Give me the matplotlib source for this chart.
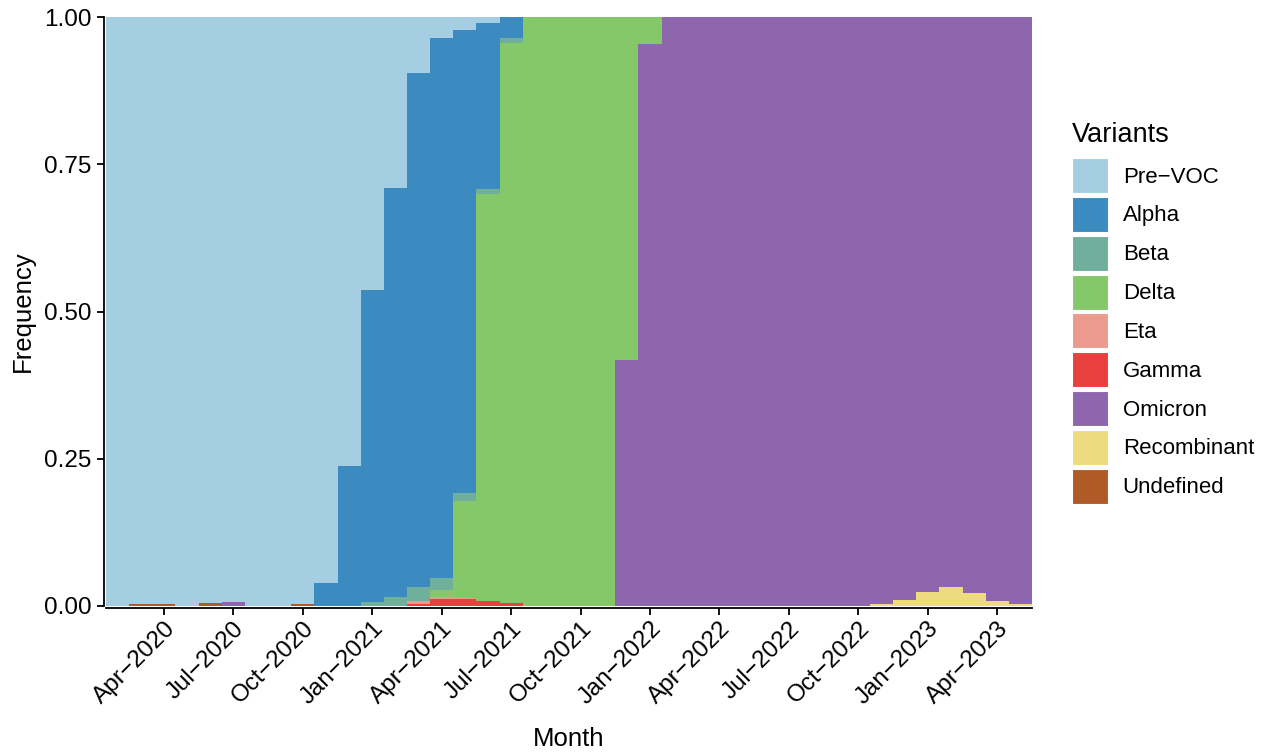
import matplotlib
matplotlib.use("Agg")
import matplotlib.pyplot as plt
from matplotlib.patches import Patch
import numpy as np

plt.rcParams['font.family'] = ['Liberation Sans', 'DejaVu Sans']

# months Feb-2020 .. May-2023 (40 bars)
months = ['Feb-2020', 'Mar-2020', 'Apr-2020', 'May-2020', 'Jun-2020', 'Jul-2020',
          'Aug-2020', 'Sep-2020', 'Oct-2020', 'Nov-2020', 'Dec-2020', 'Jan-2021',
          'Feb-2021', 'Mar-2021', 'Apr-2021', 'May-2021', 'Jun-2021', 'Jul-2021',
          'Aug-2021', 'Sep-2021', 'Oct-2021', 'Nov-2021', 'Dec-2021', 'Jan-2022',
          'Feb-2022', 'Mar-2022', 'Apr-2022', 'May-2022', 'Jun-2022', 'Jul-2022',
          'Aug-2022', 'Sep-2022', 'Oct-2022', 'Nov-2022', 'Dec-2022', 'Jan-2023',
          'Feb-2023', 'Mar-2023', 'Apr-2023', 'May-2023']

tick_months = ['Apr-2020', 'Jul-2020', 'Oct-2020', 'Jan-2021', 'Apr-2021', 'Jul-2021',
               'Oct-2021', 'Jan-2022', 'Apr-2022', 'Jul-2022', 'Oct-2022', 'Jan-2023',
               'Apr-2023']

pre_voc = [1.0, 0.996, 0.996, 1.0, 0.995, 0.994, 1.0, 1.0, 0.996, 0.961, 0.763, 0.463,
           0.290, 0.095, 0.036, 0.022, 0.011, 0, 0, 0, 0, 0, 0, 0,
           0, 0, 0, 0, 0, 0, 0, 0, 0, 0, 0, 0, 0, 0, 0, 0]
alpha = [0, 0, 0, 0, 0, 0, 0, 0, 0, 0.039, 0.237, 0.530,
         0.695, 0.872, 0.916, 0.786, 0.281, 0.036, 0, 0, 0, 0, 0, 0,
         0, 0, 0, 0, 0, 0, 0, 0, 0, 0, 0, 0, 0, 0, 0, 0]
beta = [0, 0, 0, 0, 0, 0, 0, 0, 0, 0, 0, 0.007,
        0.015, 0.0245, 0.020, 0.013, 0.009, 0.008, 0, 0, 0, 0, 0, 0,
        0, 0, 0, 0, 0, 0, 0, 0, 0, 0, 0, 0, 0, 0, 0, 0]
delta = [0, 0, 0, 0, 0, 0, 0, 0, 0, 0, 0, 0,
         0, 0, 0.012, 0.165, 0.691, 0.951, 1.0, 1.0, 1.0, 1.0, 0.582, 0.045,
         0, 0, 0, 0, 0, 0, 0, 0, 0, 0, 0, 0, 0, 0, 0, 0]
eta = [0, 0, 0, 0, 0, 0, 0, 0, 0, 0, 0, 0,
       0, 0.0045, 0.0036, 0.002, 0, 0, 0, 0, 0, 0, 0, 0,
       0, 0, 0, 0, 0, 0, 0, 0, 0, 0, 0, 0, 0, 0, 0, 0]
gamma = [0, 0, 0, 0, 0, 0, 0, 0, 0, 0, 0, 0,
         0, 0.004, 0.012, 0.012, 0.008, 0.005, 0, 0, 0, 0, 0, 0,
         0, 0, 0, 0, 0, 0, 0, 0, 0, 0, 0, 0, 0, 0, 0, 0]
omicron = [0, 0, 0, 0, 0, 0.006, 0, 0, 0, 0, 0, 0,
           0, 0, 0, 0, 0, 0, 0, 0, 0, 0, 0.418, 0.955,
           1.0, 1.0, 1.0, 1.0, 1.0, 1.0, 1.0, 1.0, 1.0, 0.997, 0.989, 0.976,
           0.968, 0.978, 0.992, 0.996]
recombinant = [0, 0, 0, 0, 0, 0, 0, 0, 0, 0, 0, 0,
               0, 0, 0, 0, 0, 0, 0, 0, 0, 0, 0, 0,
               0, 0, 0, 0, 0, 0, 0, 0, 0, 0.003, 0.011, 0.024,
               0.032, 0.022, 0.008, 0.004]
undefined = [0, 0.004, 0.004, 0, 0.005, 0, 0, 0, 0.004, 0, 0, 0,
             0, 0, 0, 0, 0, 0, 0, 0, 0, 0, 0, 0,
             0, 0, 0, 0, 0, 0, 0, 0, 0, 0, 0, 0, 0, 0, 0, 0]

variants = ['Pre\u2212VOC', 'Alpha', 'Beta', 'Delta', 'Eta', 'Gamma',
            'Omicron', 'Recombinant', 'Undefined']
series = [pre_voc, alpha, beta, delta, eta, gamma, omicron, recombinant, undefined]
colors = ['#A6CEE3', '#3B8BC0', '#6FAF9B', '#84C86A', '#EC9A8E', '#E8403F',
          '#8D66AE', '#EEDB80', '#B05A28']

fig = plt.figure(figsize=(12.66, 7.53), dpi=100)
ax = fig.add_axes([106 / 1266, 1 - 606 / 753, (1032 - 106) / 1266, (606 - 17) / 753])

# axis lines sit just outside the panel, like ggplot's; set before ticks
# because set_position resets the tick formatting
for side in ['top', 'right']:
    ax.spines[side].set_visible(False)
for side in ['left', 'bottom']:
    ax.spines[side].set_linewidth(1.3)
    ax.spines[side].set_position(('outward', 1.2))

edges = np.arange(len(months) + 1) - 0.5
bottom = np.zeros(len(months))
# ggplot stacks the first level on top, so draw from the last one upwards
for vals, col in zip(series[::-1], colors[::-1]):
    top = bottom + np.array(vals)
    # one polygon per layer: monthly bars with no seams between them
    ax.stairs(top, edges, baseline=bottom, fill=True, color=col, linewidth=0)
    bottom = top

ax.set_xlim(-0.5, len(months) - 0.5)
ax.set_ylim(0, 1)
ax.set_yticks([0, 0.25, 0.5, 0.75, 1.0])
ax.set_yticklabels(['0.00', '0.25', '0.50', '0.75', '1.00'], fontsize=17.5)
ax.set_xticks([months.index(m) for m in tick_months])
ax.set_xticklabels([m.replace('-', '\u2212') for m in tick_months],
                   rotation=45, ha='right', va='top', rotation_mode='anchor',
                   fontsize=17.5)

ax.tick_params(axis='both', length=5, width=1.3, colors='black')
ax.tick_params(axis='y', pad=4)
ax.tick_params(axis='x', pad=2)

ax.set_xlabel('Month', fontsize=18.5, labelpad=13)
ax.set_ylabel('Frequency', fontsize=18.5, labelpad=7)

# legend title drawn separately so the gap to the keys matches
fig.text(1072 / 1266, 1 - 142 / 753, 'Variants', fontsize=19.5,
         ha='left', va='baseline')
handles = [Patch(facecolor=c, edgecolor='white', linewidth=0.8) for c in colors]
leg = fig.legend(handles, variants, loc='upper left',
                 bbox_to_anchor=(1072 / 1266, 1 - 158 / 753),
                 frameon=False, fontsize=16,
                 handlelength=1.62, handleheight=2.05,
                 labelspacing=0.17, handletextpad=0.66, borderpad=0,
                 borderaxespad=0)

fig.savefig('out.png', dpi=100)
